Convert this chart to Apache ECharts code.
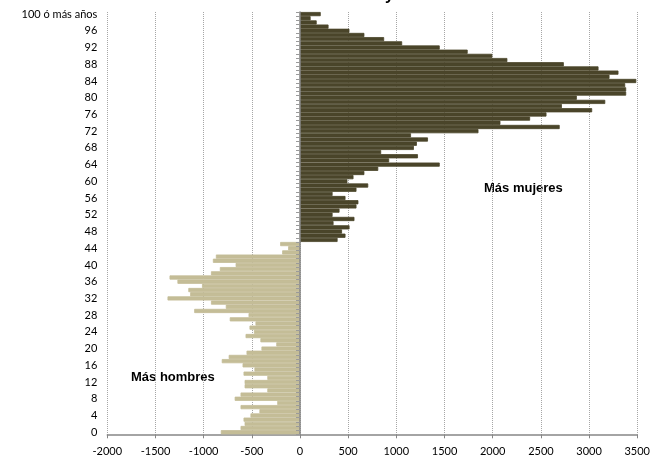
<!DOCTYPE html>
<html>
<head>
<meta charset="utf-8">
<script src="https://cdn.jsdelivr.net/npm/echarts@6/dist/echarts.min.js"></script>
<style>
  html, body { margin: 0; padding: 0; background: #ffffff; }
  #chart { width: 653px; height: 461px; }
</style>
</head>
<body>
<div id="chart"></div>
<script>
// Edades: 0 ... 99 y el grupo abierto final
const ages = [];
for (let a = 0; a < 100; a++) ages.push(String(a));
ages.push('100 ó más años');

// Mujeres menos hombres, por edad (0 ... 100 ó más)
const diffs = [
  -822, -617, -575, -586, -514, -421, -617, -236, -678, -617,
  -339, -575, -575, -339, -586, -473, -596, -812, -740, -555,
  -400, -246, -411, -565, -478, -524, -462, -729, -534, -1098,
  -770, -924, -1375, -1140, -1159, -1017, -1272, -1354, -924, -832,
  -668, -904, -873, -185, -123, -206, 390, 472, 436, 514,
  348, 565, 338, 410, 586, 606, 472, 338, 586, 708,
  492, 555, 668, 812, 1450, 925, 1224, 842, 1182, 1213,
  1328, 1152, 1852, 2695, 2080, 2388, 2558, 3032, 2718, 3168,
  2873, 3385, 3385, 3375, 3490, 3212, 3305, 3098, 2738, 2152,
  1996, 1740, 1450, 1060, 873, 668, 513, 296, 173, 110,
  215
];

const xTicks = { min: -2000, max: 3500, step: 500 };

const colorWomen = '#4A452A';
const colorMen = '#C4BD97';
const labelFont = 'Lato, "Liberation Sans", sans-serif';

// Each bar gets its fill and a matching outline so neighbouring bars join without seams
const barData = diffs.map(function (v) {
  const c = v >= 0 ? colorWomen : colorMen;
  return { value: v, itemStyle: { color: c, borderColor: c, borderWidth: 0.8 } };
});

const chart = echarts.init(document.getElementById('chart'), null, { renderer: 'canvas' });

chart.setOption({
  animation: false,
  backgroundColor: '#ffffff',
  grid: { left: 107.3, right: 11.7, top: 12, bottom: 26.7, containLabel: false },
  xAxis: {
    type: 'value',
    min: xTicks.min,
    max: xTicks.max,
    interval: xTicks.step,
    axisLine: { show: true, onZero: false, lineStyle: { color: '#868686', width: 1.5 } },
    axisTick: { show: true, length: 4, lineStyle: { color: '#868686' } },
    axisLabel: {
      color: '#000000', fontSize: 11, fontFamily: labelFont, margin: 12,
      formatter: function (v) { return String(v); }
    },
    splitLine: { show: true, lineStyle: { color: '#a6a6a6', type: 'dotted', width: 1 } }
  },
  yAxis: [
    {
      type: 'category',
      data: ages,
      axisLine: { show: true, onZero: true, lineStyle: { color: '#868686', width: 1.5 } },
      axisTick: { show: true, length: 4, interval: 0, lineStyle: { color: '#9a9a9a' } },
      axisLabel: { show: false },
      splitLine: { show: false },
      z: 5
    },
    {
      type: 'category',
      data: ages,
      position: 'left',
      axisLine: { show: false, onZero: false },
      axisTick: { show: false },
      axisLabel: {
        show: true, interval: 3, color: '#000000', fontSize: 11,
        fontFamily: labelFont, margin: 10
      },
      splitLine: { show: false }
    }
  ],
  series: [
    {
      type: 'bar',
      yAxisIndex: 0,
      data: barData,
      barCategoryGap: '0%',
      z: 2
    }
  ],
  graphic: [
    {
      type: 'text',
      left: 0,
      top: -12,
      style: {
        text: 'Diferencia del número de habitantes de cada sexo y edad',
        font: 'bold 16px "Liberation Sans", Arial, sans-serif',
        fill: '#000000'
      }
    },
    {
      type: 'text',
      left: 484,
      top: 182,
      style: { text: 'Más mujeres', font: 'bold 13px "Liberation Sans", Arial, sans-serif', fill: '#000000' }
    },
    {
      type: 'text',
      left: 131,
      top: 371,
      style: { text: 'Más hombres', font: 'bold 13px "Liberation Sans", Arial, sans-serif', fill: '#000000' }
    }
  ]
});
</script>
</body>
</html>
